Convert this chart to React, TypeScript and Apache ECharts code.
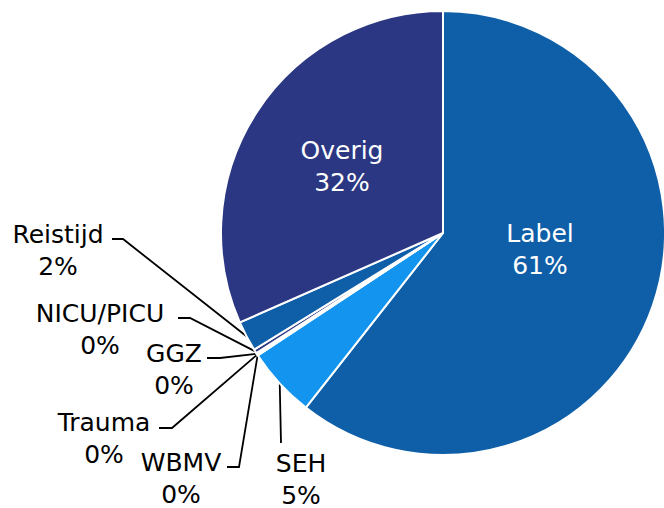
import React, { useEffect, useRef } from "react";
import * as echarts from "echarts";

const categories = ["Label", "SEH", "WBMV", "Trauma", "GGZ", "NICU/PICU", "Reistijd", "Overig"];
const values = [60.6, 5.1, 0.05, 0.05, 0.1, 0.3, 2.2, 31.6];
const colors = ["#0F5FA8", "#1294EF", "#1294EF", "#0F5FA8", "#1294EF", "#2B3782", "#0F5FA8", "#2B3782"];
const insideLabels = [true, false, false, false, false, false, false, true];

// label block centres (layout only)
const labelPos: [number, number][] = [
  [540, 249],
  [301, 479],
  [181, 478],
  [104, 438],
  [174, 369],
  [100, 329],
  [58, 250],
  [342, 166],
];
// leader line points after the pie-edge point (layout only)
const leaders: ([number, number][] | null)[] = [
  null,
  [[281, 443], [281, 443]],
  [[239, 467], [227, 467]],
  [[172, 428], [159, 428]],
  [[220, 358], [207, 358]],
  [[190, 318], [178, 318]],
  [[123, 239], [112, 239]],
  null,
];

export default function App() {
  const ref = useRef<HTMLDivElement>(null);
  useEffect(() => {
    if (!ref.current) return;
    const chart = echarts.init(ref.current, null, { renderer: "svg" });
    const data = categories.map((name, i) => ({
      name,
      value: values[i],
      itemStyle: { color: colors[i] },
      label: insideLabels[i]
        ? { position: "inside", color: "#ffffff" }
        : { position: "outside", color: "#000000" },
      labelLine: { show: !insideLabels[i] },
    }));
    chart.setOption({
      animation: false,
      series: [
        {
          type: "pie",
          center: [443, 233],
          radius: 222,
          startAngle: 90,
          clockwise: true,
          avoidLabelOverlap: false,
          itemStyle: { borderColor: "#ffffff", borderWidth: 2 },
          label: {
            show: true,
            fontFamily: "DejaVu Sans",
            fontSize: 25,
            lineHeight: 32,
            align: "center",
            formatter: (p: any) => `${p.name}\n${Math.round(p.percent)}%`,
          },
          labelLine: {
            show: true,
            lineStyle: { color: "#000000", width: 1.8 },
          },
          labelLayout: (params: any) => {
            const i = params.dataIndex;
            const pos = labelPos[i];
            const res: any = {
              x: pos[0],
              y: pos[1],
              align: "center",
              verticalAlign: "middle",
              hideOverlap: false,
              moveOverlap: false,
            };
            const pts = params.labelLinePoints;
            const l = leaders[i];
            if (pts && pts.length && l) {
              res.labelLinePoints = [pts[0], l[0], l[1]];
            }
            return res;
          },
          data,
        },
      ],
    });
    return () => chart.dispose();
  }, []);
  return (
    <div
      ref={ref}
      style={{ position: "fixed", left: 0, top: 0, width: 664, height: 508, background: "#ffffff" }}
    />
  );
}
